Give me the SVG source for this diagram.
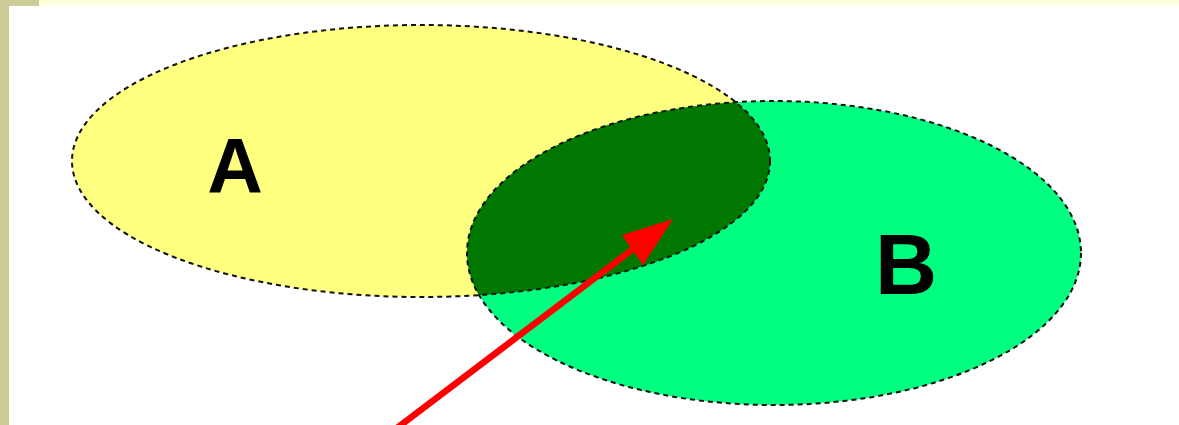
<svg xmlns="http://www.w3.org/2000/svg" width="1179" height="425" viewBox="0 0 1179 425">
<style>
.lbl{font-family:"Liberation Sans",Arial,sans-serif;font-weight:bold;fill:#000;text-anchor:middle}
.edge{fill:none;stroke:#111;stroke-width:2;stroke-dasharray:5,4}
</style>
<defs>
<clipPath id="clipB"><ellipse cx="774" cy="253" rx="307" ry="152"/></clipPath>
</defs>
<rect x="0" y="0" width="1179" height="425" fill="#ffffff"/>
<rect x="0" y="0" width="1179" height="6" fill="#ffffe0"/>
<rect x="0" y="0" width="39" height="6" fill="#cccc99"/>
<rect x="0" y="0" width="9" height="425" fill="#cccc99"/>
<g id="setA">
<ellipse cx="421" cy="161" rx="349" ry="136" fill="#ffff80"/>
</g>
<g id="setB">
<ellipse cx="774" cy="253" rx="307" ry="152" fill="#00ff80"/>
</g>
<g id="intersection">
<ellipse cx="421" cy="161" rx="349" ry="136" fill="#007700" clip-path="url(#clipB)"/>
</g>
<g id="outlines">
<ellipse class="edge" cx="421" cy="161" rx="349" ry="136"/>
<ellipse class="edge" cx="774" cy="253" rx="307" ry="152"/>
</g>
<text class="lbl" x="235" y="193" font-size="77">A</text>
<text class="lbl" x="906" y="294" font-size="86">B</text>
<g id="connectors">
<line x1="393" y1="431" x2="645" y2="240" stroke="#ff0000" stroke-width="6.5"/>
<polygon points="673,219 622,235 643,265" fill="#ff0000"/>
</g>
</svg>
